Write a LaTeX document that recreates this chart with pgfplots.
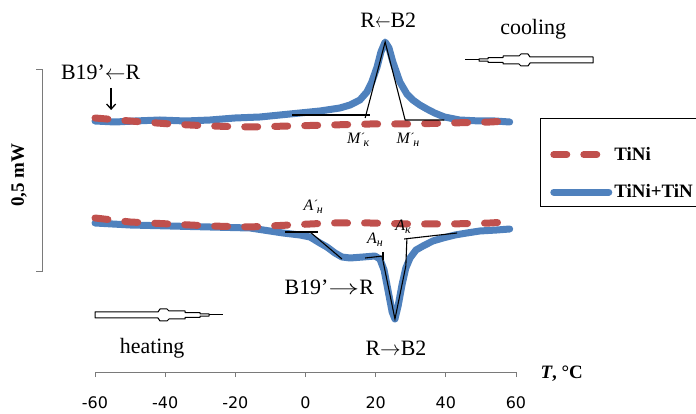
\documentclass[border=0pt]{standalone}
\usepackage{fontspec}
\setmainfont{Liberation Serif}
\newfontfamily\tickfont{DejaVu Sans}
\usepackage{graphicx}
\usepackage{pgfplots}
\pgfplotsset{compat=1.18}
\usetikzlibrary{arrows.meta}

\definecolor{tinired}{HTML}{C0504D}
\definecolor{tinblue}{HTML}{4F81BD}
\definecolor{axgray}{HTML}{7A7A7A}

\newcommand\annfont{\fontsize{22}{24}\selectfont}
\newcommand\tl[1]{{\tickfont\fontsize{16}{17}\selectfont #1}}
% italic labels with subscript (optionally primed)
\newcommand\sublab[2]{{\fontsize{16}{16}\selectfont\itshape #1\raisebox{-0.45ex}{\fontsize{12}{12}\selectfont #2}}}
\newcommand\sublabp[2]{{\fontsize{16}{16}\selectfont\itshape #1\raisebox{0.25ex}{\fontsize{12}{12}\selectfont ´}\kern-0.04em\raisebox{-0.45ex}{\fontsize{12}{12}\selectfont #2}}}
\newcommand\pencil[2]{%
  \begin{scope}[shift={#1}, x=#2, y=1bp]
    \draw[line width=1bp, line join=round, fill=white] (0,-3) -- (0,3) -- (63,3) -- (65,6) -- (72,6) -- (74,4)
      -- (90,4) -- (90,2.3) -- (105,2.3) -- (105,1.2) -- (114,1.2) -- (114,-1.2) -- (105,-1.2) -- (105,-2.3)
      -- (90,-2.3) -- (90,-4) -- (74,-4) -- (72,-6) -- (65,-6) -- (63,-3) -- cycle;
    \draw[line width=1bp] (114,0) -- (128,0);
  \end{scope}}

\pgfplotsset{
  tini/.style={tinired, line width=7bp, line cap=round, dash pattern=on 13bp off 17bp},
  tin/.style={tinblue, line width=7bp, line cap=round, line join=round},
  tang/.style={black, line width=1.1bp},
}

\begin{document}
\begin{tikzpicture}
\useasboundingbox (0,0) rectangle (696bp,414bp);
\clip (0,0) rectangle (696bp,414bp);
\begin{axis}[at={(95bp,42bp)}, anchor=south west, scale only axis,
  width=421bp, height=362bp,
  xmin=-60, xmax=60, ymin=0, ymax=362,
  axis x line=bottom, axis y line=none,
  axis line style={-, draw=axgray, line width=0.9bp},
  xtick={-60,-40,...,60},
  xticklabels={\tl{-60},\tl{-40},\tl{-20},\tl{0},\tl{20},\tl{40},\tl{60}},
  tick style={axgray, line width=0.9bp}, major tick length=5bp, tick align=outside,
  xticklabel style={yshift=-16bp},
  clip=false,
  legend style={at={(axis description cs:1.081,0.627)}, anchor=north west,
    draw=none, fill=none, inner xsep=0bp, inner ysep=0bp, row sep=19bp,
    font=\bfseries\fontsize{19}{20}\selectfont,
    nodes={inner sep=2bp, text width=90bp}},
  legend cell align=left,
  legend image code/.code={\draw[#1] (0bp,0bp) -- (55bp,0bp);},
]
\addlegendimage{tini}\addlegendentry{TiNi}
\addlegendimage{tin}\addlegendentry{TiNi+TiN}

% cooling, TiNi+TiN
\addplot[tin, forget plot] coordinates {(-60.0,251) (-54.3,250) (-48.6,251) (-41.5,252) (-34.2,251)
 (-27.2,252) (-20.1,254) (-13.0,255) (-7.3,257) (-1.6,259) (4.1,261) (9.8,264) (12.7,267) (15.5,272)
 (17.5,280) (18.9,290) (20.4,305) (21.5,320) (22.7,330) (23.8,324) (24.9,310) (26.9,290) (28.9,278)
 (30.6,272) (32.6,267) (34.6,263) (36.8,259) (39.6,255) (43.9,252) (49.7,251) (54.0,251) (58.2,250)};
% heating, TiNi+TiN
\addplot[tin, forget plot] coordinates {(-60.0,149) (-50.0,147) (-38.6,146) (-27.2,145) (-15.8,144)
 (-6.4,139) (-1.6,137) (1.3,135) (4.1,129) (6.1,125) (8.4,119) (10.4,115) (12.7,114) (16.4,115)
 (19.8,116) (21.2,113) (22.4,102) (23.5,82) (24.7,60) (25.5,53) (26.4,66) (27.5,87) (28.6,104)
 (29.8,114) (31.5,122) (33.5,126) (36.3,131) (39.2,134) (42.6,137) (46.0,139) (49.7,141) (54.5,142) (58.2,143)};
% TiNi
\addplot[tini, forget plot] coordinates {(-60,254) (-50,251) (-38.6,248) (-27.2,246) (-15.8,245) (-4.4,246)
 (7.0,247) (18.4,248) (29.8,248) (41.2,249) (52.6,250) (57.4,251)};
\addplot[tini, forget plot] coordinates {(-60,154) (-50,150) (-38.6,148) (-27.2,146) (-15.8,145) (-4.4,147)
 (7.0,149) (18.4,149) (29.8,148) (41.2,148) (52.6,149) (57.4,150)};

% tangent construction
\addplot[tang, forget plot] coordinates {(-3.8,257) (18.4,257)};
\addplot[tang, forget plot] coordinates {(17.0,254) (22.7,330) (28.4,252) (39.6,252)};
\addplot[tang, forget plot] coordinates {(-5.8,140) (3.6,140)};
\addplot[tang, forget plot] coordinates {(1.3,140) (10.4,113)};
\addplot[tang, forget plot] coordinates {(17.0,114) (22.1,116)};
\addplot[tang, forget plot] coordinates {(22.1,120) (22.1,112)};
\addplot[tang, forget plot] coordinates {(21.8,116) (25.5,53) (28.6,106) (28.9,133)};
\addplot[tang, forget plot] coordinates {(28.1,133) (43.2,139)};

% annotations
\node[anchor=base, font=\annfont] at (axis cs:23.6,344) {R\scalebox{0.75}[1]{$\leftarrow$}B2};
\node[anchor=base, font=\annfont] at (axis cs:-58.4,292) {B19'\scalebox{1.0}[1]{$\leftarrow$}R};
\draw[-{Straight Barb[length=5bp,width=9bp]}, line width=1.3bp] (axis cs:-55.4,284) -- (axis cs:-55.4,262);
\node[anchor=base, font=\annfont] at (axis cs:64.9,337) {cooling};
\node[anchor=base, font=\annfont] at (axis cs:-43.7,19) {heating};
\node[anchor=base, font=\annfont] at (axis cs:6.8,77) {B19'\scalebox{1.5}[1]{$\rightarrow$}R};
\node[anchor=base, font=\annfont] at (axis cs:25.8,17) {R\scalebox{1.0}[1]{$\rightarrow$}B2};
\node[anchor=base west, font=\bfseries\fontsize{19}{20}\selectfont] at (axis cs:66,-6) {\textit{T}, °C};

\node at (axis cs:15.0,232) {\sublabp{M}{к}};
\node at (axis cs:29.2,232) {\sublabp{M}{н}};
\node at (axis cs:2.2,165) {\sublabp{A}{н}};
\node at (axis cs:19.8,132) {\sublab{A}{н}};
\node at (axis cs:27.8,145) {\sublab{A}{к}};
\end{axis}

% legend frame
\draw[black, line width=0.9bp] (540bp,296bp) rectangle (720bp,208bp);
% 0.5 mW scale bar
\draw[axgray, line width=1bp] (36bp,344bp) -- (42bp,344bp) -- (42bp,142bp) -- (36bp,142bp);
\node[rotate=90, font=\bfseries\fontsize{19}{20}\selectfont] at (19bp,239bp) {0,5 mW};

\pencil{(95bp,99bp)}{1bp}
\pencil{(593bp,354bp)}{-1bp}
\end{tikzpicture}
\end{document}
